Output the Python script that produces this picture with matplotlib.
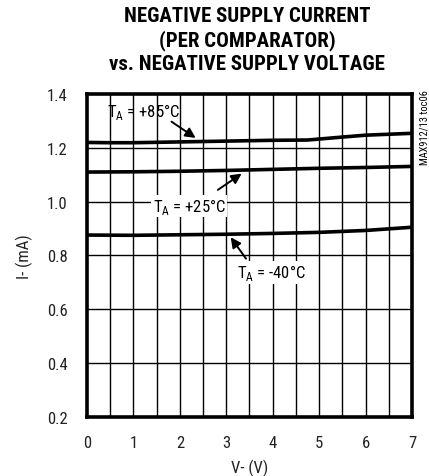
import matplotlib
matplotlib.use("Agg")
import matplotlib.pyplot as plt
import numpy as np

plt.rcParams['font.family'] = ['Roboto Condensed', 'DejaVu Sans']
plt.rcParams['mathtext.fontset'] = 'custom'
plt.rcParams['mathtext.rm'] = 'Roboto Condensed'

x_85 = [0, 0.5, 1, 2, 3, 4, 4.75, 5.5, 6, 7]
y_85 = [1.220, 1.219, 1.219, 1.222, 1.225, 1.228, 1.229, 1.240, 1.247, 1.254]
x_25 = [0, 1, 2, 3, 4, 5, 6, 7]
y_25 = [1.110, 1.111, 1.113, 1.116, 1.120, 1.124, 1.127, 1.131]
x_m40 = [0, 1, 2, 3, 4, 5, 6, 7]
y_m40 = [0.876, 0.875, 0.877, 0.879, 0.882, 0.886, 0.893, 0.905]
xticks = [0, 1, 2, 3, 4, 5, 6, 7]
yticks = [0.2, 0.4, 0.6, 0.8, 1.0, 1.2, 1.4]
ytick_labels = ["0.2", "0.4", "0.6", "0.8", "1.0", "1.2", "1.4"]
title_lines = ["NEGATIVE SUPPLY CURRENT", "(PER COMPARATOR)", "vs. NEGATIVE SUPPLY VOLTAGE"]

fig = plt.figure(figsize=(4.29, 4.77), dpi=100)
ax = fig.add_axes([87/429, 1-418/477, 325/429, 323/477])
ax.set_xlim(0, 7)
ax.set_ylim(0.2, 1.4)
for xv in np.arange(0.5, 7, 0.5):
    ax.axvline(xv, color='black', lw=1.0, zorder=1)
for yv in yticks[1:-1]:
    ax.axhline(yv, color='black', lw=1.0, zorder=1)
for s in ax.spines.values():
    s.set_linewidth(2.6)
ax.plot(x_85, y_85, color='black', lw=2.6, zorder=3)
ax.plot(x_25, y_25, color='black', lw=2.6, zorder=3)
ax.plot(x_m40, y_m40, color='black', lw=2.6, zorder=3)

ax.set_xticks(xticks)
ax.set_xticklabels([str(v) for v in xticks])
ax.set_yticks(yticks)
ax.set_yticklabels(ytick_labels)
ax.tick_params(length=0, labelsize=12, pad=13, labelcolor='#222222')
ax.tick_params(axis='y', pad=14)
ax.set_xlabel("V- (V)", fontsize=12, color='#222222')
ax.set_ylabel("I- (mA)", fontsize=12, color='#222222')
ax.xaxis.set_label_coords(0.5, -(468-418)/323, transform=ax.transAxes)
ax.yaxis.set_label_coords(-(87-24)/325, 0.5, transform=ax.transAxes)
ax.xaxis.label.set_va('center')
ax.yaxis.label.set_va('center')

bbox = dict(facecolor='white', edgecolor='none', pad=1.0)
ax.text(1.22, 1.338, r"T$_\mathregular{A}$ = +85°C", fontsize=12, ha='center', va='center', zorder=4)
ax.annotate("", xy=(2.39, 1.231), xytext=(1.77, 1.303),
            arrowprops=dict(arrowstyle='-|>', color='black', lw=1.4, mutation_scale=15), zorder=4)
ax.text(2.2, 0.984, r"T$_\mathregular{A}$ = +25°C", fontsize=12, ha='center', va='center', bbox=bbox, zorder=4)
ax.annotate("", xy=(3.38, 1.11), xytext=(2.77, 1.038),
            arrowprops=dict(arrowstyle='-|>', color='black', lw=1.4, mutation_scale=15), zorder=4)
ax.text(3.97, 0.738, r"T$_\mathregular{A}$ = -40°C", fontsize=12, ha='center', va='center', bbox=bbox, zorder=4)
ax.annotate("", xy=(3.06, 0.876), xytext=(3.46, 0.78),
            arrowprops=dict(arrowstyle='-|>', color='black', lw=1.4, mutation_scale=15), zorder=4)

for i, line in enumerate(title_lines):
    fig.text(247/429, 1 - (17 + 24*i)/477, line, ha='center', va='center',
             fontsize=15, fontweight='heavy')
fig.text(425/429, 1 - 128/477, "MAX912/13 toc06", rotation=90, ha='center', va='center', fontsize=7.5)

fig.savefig("out.png", dpi=100)
